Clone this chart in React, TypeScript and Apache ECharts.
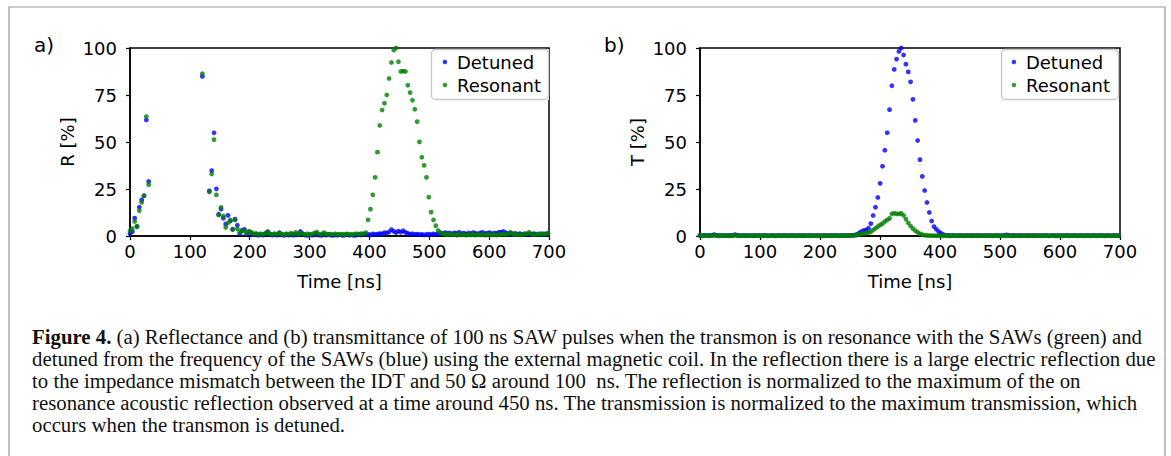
import React, { useEffect, useRef } from "react";
import * as echarts from "echarts";

// sampling interval of the measured traces (ns)
const timeStep = 3.9;

const xTicks = [0, 100, 200, 300, 400, 500, 600, 700];
const yTicks = [0, 25, 50, 75, 100];

// Panel a) reflectance R [%]; null = off scale (large electric reflection)
const detunedR: (number | null)[] = [
  1.2, 2.3, 9.5, 5.0, 15.3, 19.2, 21.4, 61.7, 29.0, null,
  null, null, null, null, null, null, null, null, null, null,
  null, null, null, null, null, null, null, null, null, null,
  null, 84.9, null, null, 24.0, 34.8, 54.9, 25.1, 11.5, 14.3,
  9.5, 6.4, 11.0, 8.0, 3.5, 9.0, 5.7, 1.0, 3.0, 3.5,
  0.8, 2.2, 1.5, 0.6, 0.9, 0.4, 0.8, 0.5, 1.2, 2.3,
  1.0, 0.5, 0.7, 0.4, 1.6, 0.6, 0.3, 0.8, 0.5, 0.9,
  0.4, 1.0, 0.6, 2.4, 1.2, 0.5, 0.3, 0.8, 0.4, 0.6,
  1.2, 0.5, 0.3, 0.7, 0.4, 0.9, 0.5, 0.3, 0.6, 0.4,
  0.7, 0.3, 0.5, 0.8, 0.4, 0.6, 0.3, 0.5, 0.8, 0.6,
  0.9, 0.7, 0.9, 0.6, 1.1, 0.8, 1.0, 1.3, 1.1, 1.8,
  1.5, 2.2, 3.4, 2.5, 1.8, 2.6, 2.0, 2.8, 1.9, 1.4,
  1.0, 1.2, 0.8, 1.0, 0.7, 0.9, 0.6, 0.8, 1.0, 0.7,
  1.1, 0.9, 1.2, 1.5, 1.2, 1.8, 1.4, 1.6, 1.1, 1.7,
  1.3, 1.9, 1.2, 1.5, 1.0, 1.6, 1.3, 1.8, 1.4, 1.1,
  1.6, 1.9, 1.3, 1.5, 1.8, 1.2, 1.6, 1.4, 1.9, 2.1,
  2.4, 1.7, 1.3, 1.5, 1.1, 1.4, 1.0, 1.3, 0.9, 1.2,
  0.8, 1.1, 0.9, 1.3, 1.0, 0.8, 1.2, 0.9, 1.1, 1.3,
];

const resonantR: (number | null)[] = [
  2.6, 4.0, 7.7, 5.2, 13.5, 17.9, 21.4, 63.5, 27.3, null,
  null, null, null, null, null, null, null, null, null, null,
  null, null, null, null, null, null, null, null, null, null,
  null, 86.3, null, null, 23.5, 33.0, 51.3, 21.9, 11.2, 15.2,
  10.7, 4.6, 7.0, 8.5, 3.5, 8.5, 3.8, 2.0, 2.5, 3.0,
  1.5, 2.5, 2.0, 1.0, 1.4, 0.8, 1.2, 0.9, 1.5, 2.0,
  1.1, 0.8, 1.3, 0.9, 1.8, 1.0, 0.7, 1.2, 0.8, 1.5,
  1.0, 1.9, 0.9, 1.6, 1.1, 0.8, 1.2, 0.7, 1.0, 1.5,
  2.1, 1.0, 0.8, 1.8, 1.1, 0.7, 1.0, 0.8, 1.2, 0.9,
  0.7, 1.0, 0.8, 1.1, 0.9, 0.8, 1.0, 1.2, 1.0, 1.3,
  1.1, 1.8, 8.6, 14.3, 21.9, 31.2, 44.6, 58.8, 67.0, 70.6,
  75.0, 83.8, 92.3, 98.9, 100, 92.7, 87.5, 87.7, 87.5, 80.2,
  76.3, 72.2, 67.4, 60.8, 50.1, 41.9, 37.6, 31.2, 20.7, 12.7,
  8.6, 5.5, 2.9, 1.8, 1.2, 0.9, 0.7, 1.0, 0.6, 0.8,
  0.5, 0.9, 0.6, 0.7, 0.5, 0.8, 0.6, 0.9, 0.5, 0.7,
  0.6, 0.8, 0.5, 0.7, 0.9, 0.6, 0.8, 0.5, 0.7, 0.9,
  1.2, 0.8, 1.1, 1.9, 1.0, 0.7, 0.9, 0.6, 0.8, 1.0,
  1.3, 1.9, 1.0, 0.7, 0.9, 1.1, 0.8, 1.2, 1.0, 1.4,
];

// Panel b) transmittance T [%]
const detunedT: number[] = [
  0.3, 0.2, 0.3, 0.2, 0.3, 0.4, 0.7, 0.4, 0.2, 0.3,
  0.2, 0.3, 0.2, 0.3, 0.4, 0.7, 0.4, 0.2, 0.3, 0.2,
  0.3, 0.2, 0.2, 0.3, 0.2, 0.3, 0.2, 0.2, 0.3, 0.2,
  0.2, 0.3, 0.2, 0.2, 0.3, 0.2, 0.3, 0.2, 0.2, 0.3,
  0.2, 0.2, 0.3, 0.2, 0.3, 0.2, 0.2, 0.3, 0.2, 0.2,
  0.3, 0.2, 0.2, 0.3, 0.2, 0.2, 0.3, 0.2, 0.3, 0.2,
  0.2, 0.3, 0.2, 0.3, 0.2, 0.3, 0.4, 0.9, 1.6, 2.3,
  2.9, 3.2, 4.1, 6.6, 10.9, 15.3, 20.5, 28.0, 37.1, 45.6,
  54.9, 67.2, 79.9, 88.6, 94.1, 98.2, 100, 96.3, 91.4, 87.3,
  82.0, 72.7, 61.5, 50.8, 40.6, 31.7, 24.2, 17.8, 12.5, 8.0,
  5.0, 3.6, 2.3, 1.4, 0.7, 0.4, 0.3, 0.2, 0.3, 0.2,
  0.2, 0.3, 0.2, 0.2, 0.3, 0.2, 0.3, 0.2, 0.2, 0.3,
  0.2, 0.2, 0.3, 0.2, 0.3, 0.2, 0.2, 0.3, 0.2, 0.2,
  0.4, 0.6, 0.4, 0.2, 0.3, 0.2, 0.2, 0.3, 0.2, 0.2,
  0.3, 0.2, 0.2, 0.3, 0.2, 0.2, 0.3, 0.2, 0.3, 0.2,
  0.2, 0.3, 0.2, 0.2, 0.3, 0.2, 0.2, 0.3, 0.2, 0.2,
  0.3, 0.2, 0.2, 0.3, 0.2, 0.3, 0.2, 0.2, 0.3, 0.2,
  0.2, 0.3, 0.2, 0.2, 0.3, 0.2, 0.2, 0.3, 0.2, 0.2,
];

const resonantT: number[] = [
  0.2, 0.1, 0.2, 0.2, 0.1, 0.2, 0.3, 0.2, 0.1, 0.2,
  0.2, 0.1, 0.2, 0.2, 0.1, 0.3, 0.2, 0.1, 0.2, 0.2,
  0.1, 0.2, 0.2, 0.1, 0.2, 0.2, 0.1, 0.2, 0.2, 0.1,
  0.2, 0.2, 0.1, 0.2, 0.2, 0.1, 0.2, 0.2, 0.1, 0.2,
  0.2, 0.1, 0.2, 0.2, 0.1, 0.2, 0.2, 0.1, 0.2, 0.2,
  0.1, 0.2, 0.2, 0.1, 0.2, 0.2, 0.1, 0.2, 0.2, 0.1,
  0.2, 0.2, 0.2, 0.2, 0.2, 0.3, 0.3, 0.5, 0.8, 1.1,
  1.4, 1.6, 1.8, 2.3, 3.2, 4.1, 5.0, 5.9, 6.6, 7.7,
  8.6, 9.4, 11.8, 12.1, 11.8, 11.8, 12.0, 11.0, 9.0, 7.0,
  5.3, 3.9, 2.8, 2.0, 1.2, 0.7, 0.4, 0.3, 0.2, 0.2,
  0.2, 0.1, 0.2, 0.2, 0.1, 0.2, 0.2, 0.1, 0.2, 0.2,
  0.1, 0.2, 0.2, 0.1, 0.2, 0.2, 0.1, 0.2, 0.2, 0.1,
  0.2, 0.2, 0.1, 0.2, 0.2, 0.1, 0.2, 0.2, 0.1, 0.2,
  0.2, 0.1, 0.2, 0.2, 0.1, 0.2, 0.2, 0.1, 0.2, 0.2,
  0.1, 0.2, 0.2, 0.1, 0.2, 0.2, 0.1, 0.2, 0.2, 0.1,
  0.2, 0.2, 0.1, 0.2, 0.2, 0.1, 0.2, 0.2, 0.1, 0.2,
  0.2, 0.1, 0.2, 0.2, 0.1, 0.2, 0.2, 0.1, 0.2, 0.2,
  0.1, 0.2, 0.2, 0.1, 0.2, 0.2, 0.1, 0.2, 0.2, 0.1,
];

const seriesNames = ["Detuned", "Resonant"];
const colors = ["#0000ff", "#008000"];
const panelLabels = ["a)", "b)"];
const yNames = ["R [%]", "T [%]"];
const xName = "Time [ns]";

const captionLines = [
  "{b|Figure 4.} (a) Reflectance and (b) transmittance of 100 ns SAW pulses when the transmon is on resonance with the SAWs (green) and",
  "detuned from the frequency of the SAWs (blue) using the external magnetic coil. In the reflection there is a large electric reflection due",
  "to the impedance mismatch between the IDT and 50 \u03a9 around 100  ns. The reflection is normalized to the maximum of the on",
  "resonance acoustic reflection observed at a time around 450 ns. The transmission is normalized to the maximum transmission, which",
  "occurs when the transmon is detuned.",
];

const toPairs = (vals: (number | null)[]) =>
  vals
    .map((v, i) => (v == null ? null : [+(i * timeStep).toFixed(2), v]))
    .filter((p) => p !== null) as number[][];

const FONT = "DejaVu Sans";
const CAP_FONT = "Liberation Serif";
const CAP_SIZE = 20.8;

const makeX = (gridIndex: number) => ({
  type: "value",
  gridIndex,
  min: xTicks[0],
  max: xTicks[xTicks.length - 1],
  interval: xTicks[1] - xTicks[0],
  name: xName,
  nameLocation: "middle",
  nameGap: 36,
  nameTextStyle: { color: "#000", fontFamily: FONT, fontSize: 18 },
  axisLine: { show: true, lineStyle: { color: "#000", width: 1.5 } },
  axisTick: { show: true, length: 4, lineStyle: { color: "#000", width: 1.2 } },
  axisLabel: { color: "#000", fontFamily: FONT, fontSize: 18, margin: 6, showMinLabel: true, showMaxLabel: true },
  splitLine: { show: false },
});

const makeY = (gridIndex: number) => ({
  type: "value",
  gridIndex,
  min: yTicks[0],
  max: yTicks[yTicks.length - 1],
  interval: yTicks[1] - yTicks[0],
  name: yNames[gridIndex],
  nameLocation: "middle",
  nameRotate: 90,
  nameGap: 54,
  nameTextStyle: { color: "#000", fontFamily: FONT, fontSize: 18 },
  axisLine: { show: true, lineStyle: { color: "#000", width: 1.5 } },
  axisTick: { show: true, length: 4, lineStyle: { color: "#000", width: 1.2 } },
  axisLabel: { color: "#000", fontFamily: FONT, fontSize: 18, margin: 13, showMinLabel: true, showMaxLabel: true },
  splitLine: { show: false },
});

const makeLegend = (right: number) => ({
  orient: "vertical",
  right,
  top: 49,
  icon: "circle",
  itemWidth: 14,
  itemHeight: 4.5,
  itemGap: 3,
  padding: [3, 8, 5, 5],
  backgroundColor: "rgba(255,255,255,0.8)",
  borderWidth: 0,
  data: seriesNames,
  textStyle: { color: "#000", fontFamily: FONT, fontSize: 18, lineHeight: 20 },
});

// legend frame (rounded, light grey) drawn around each legend box
const legendFrame = (x: number) => ({
  type: "rect",
  shape: { x, y: 49.5, width: 117, height: 50, r: 4 },
  style: { fill: "none", stroke: "#c8c8c8", lineWidth: 1.3 },
  silent: true,
  z: 10,
});

export default function App() {
  const ref = useRef<HTMLDivElement>(null);
  useEffect(() => {
    if (!ref.current) return;
    const chart = echarts.init(ref.current, null, { renderer: "svg" });
    const panels = [
      [detunedR, resonantR],
      [detunedT, resonantT],
    ];
    const series: any[] = [];
    panels.forEach((pair, p) => {
      pair.forEach((vals, s) => {
        series.push({
          type: "scatter",
          name: seriesNames[s],
          xAxisIndex: p,
          yAxisIndex: p,
          symbol: "circle",
          symbolSize: 4.8,
          itemStyle: { color: colors[s] },
          data: toPairs(vals),
          clip: false,
          z: 2 + s,
        });
      });
    });
    const graphics: any[] = [
      {
        type: "rect",
        shape: { x: 9, y: 7, width: 1156, height: 470 },
        style: { fill: "none", stroke: "#999999", lineWidth: 1.2 },
        silent: true,
      },
      legendFrame(431.5),
      legendFrame(1001.5),
      {
        type: "text",
        x: 34,
        y: 45,
        style: { text: panelLabels[0], font: `20px "${FONT}"`, fill: "#000", verticalAlign: "middle" },
      },
      {
        type: "text",
        x: 604,
        y: 45,
        style: { text: panelLabels[1], font: `20px "${FONT}"`, fill: "#000", verticalAlign: "middle" },
      },
    ];
    captionLines.forEach((line, i) => {
      graphics.push({
        type: "text",
        x: 32,
        y: 336 + i * 22,
        style: {
          text: line,
          fontFamily: CAP_FONT,
          fontSize: CAP_SIZE,
          fill: "#111",
          verticalAlign: "middle",
          rich: {
            b: { fontFamily: CAP_FONT, fontSize: CAP_SIZE, fontWeight: "bold", fill: "#111" },
          },
        },
      });
    });
    chart.setOption({
      animation: false,
      backgroundColor: "#fff",
      grid: [
        { left: 130, top: 48, width: 419, height: 188, show: true, borderColor: "#000", borderWidth: 1.5, containLabel: false },
        { left: 700, top: 48, width: 420, height: 188, show: true, borderColor: "#000", borderWidth: 1.5, containLabel: false },
      ],
      xAxis: [makeX(0), makeX(1)],
      yAxis: [makeY(0), makeY(1)],
      legend: [makeLegend(622), makeLegend(53)],
      series,
      graphic: graphics,
    });
    return () => chart.dispose();
  }, []);
  return (
    <div
      ref={ref}
      style={{ position: "absolute", left: 0, top: 0, width: 1171, height: 456, background: "#fff" }}
    />
  );
}
